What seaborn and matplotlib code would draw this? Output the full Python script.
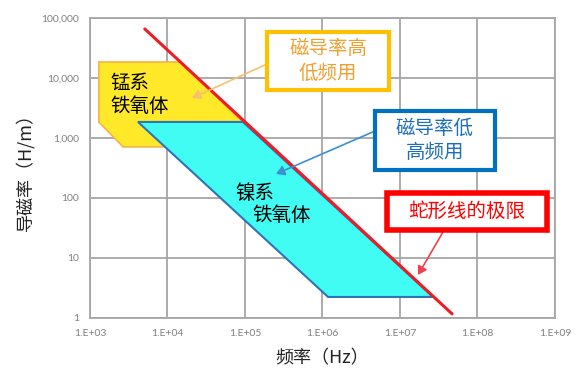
import numpy as np
import pandas as pd
import matplotlib
matplotlib.use("Agg")
import matplotlib.pyplot as plt
import seaborn as sns

# 数据
mn_freq = [1300, 14500, 94000, 9300, 2670, 1300]
mn_perm = [18500, 18500, 1850, 710, 710, 1850]

ni_freq = [4160, 94000, 2.67e7, 1.18e6]
ni_perm = [1850, 1850, 2.24, 2.24]

snoek_freq = [5.1e3, 4.7e7]
snoek_perm = [65600, 1.17]

x_ticks = [1e3, 1e4, 1e5, 1e6, 1e7, 1e8, 1e9]
x_labels = ["1.E+03", "1.E+04", "1.E+05", "1.E+06", "1.E+07", "1.E+08", "1.E+09"]
y_ticks = [1, 10, 100, 1000, 10000, 100000]
y_labels = ["1", "10", "100", "1,000", "10,000", "100,000"]

sns.set_theme(style="white")
plt.rcParams['font.family'] = ['Noto Sans CJK SC', 'DejaVu Sans']

fig = plt.figure(figsize=(5.82, 3.71), dpi=100)
ax = fig.add_axes([0.1546, 0.1429, 0.799, 0.8086])
ax.set_xscale("log")
ax.set_yscale("log")
ax.set_xlim(1e3, 1e9)
ax.set_ylim(1, 1e5)

# 网格
ax.set_xticks(x_ticks)
ax.set_xticklabels(x_labels, fontsize=7.5, color="#808080", family=["Lato", "DejaVu Sans"])
ax.set_yticks(y_ticks)
ax.set_yticklabels(y_labels, fontsize=7.5, color="#808080", family=["Lato", "DejaVu Sans"])
ax.minorticks_off()
ax.tick_params(length=0, pad=8)
ax.grid(True, color="#a6a6a6", linewidth=1.3)
for s in ax.spines.values():
    s.set_color("#a6a6a6")
    s.set_linewidth(1.3)

# 锰系 / 镍系 区域
ax.fill(mn_freq, mn_perm, facecolor="#ffe928", edgecolor="#f7b24a", linewidth=1.2, zorder=3)
ax.fill(ni_freq, ni_perm, facecolor="#40fcf2", edgecolor="#2e75b6", linewidth=1.5, zorder=4)

# 蛇形线极限
df = pd.DataFrame({"f": snoek_freq, "mu": snoek_perm})
sns.lineplot(data=df, x="f", y="mu", color="#ee1c25", linewidth=2.2, ax=ax, zorder=5)

# 区域文字
ax.text(1.84e3, 5260, "锰系\n铁氧体", fontsize=14, color="black", va="center", ha="left",
        linespacing=1.15, zorder=6)
ax.text(7.5e4, 121, "镍系", fontsize=14, color="black", va="center", ha="left", zorder=6)
ax.text(1.25e5, 52, "铁氧体", fontsize=14, color="black", va="center", ha="left", zorder=6)

W, H = 582.0, 371.0

# 标注框
def box(x0, y0, x1, y1, text, color, fc, lw):
    xc, yc = (x0 + x1) / 2 / W, 1 - (y0 + y1) / 2 / H
    rect = plt.Rectangle((x0 / W, 1 - y1 / H), (x1 - x0) / W, (y1 - y0) / H,
                         transform=fig.transFigure, facecolor="white",
                         edgecolor=color, linewidth=lw, zorder=9)
    fig.add_artist(rect)
    fig.text(xc, yc, text, ha="center", va="center", fontsize=14, color=fc,
             linespacing=1.2, zorder=10)

box(267, 32, 389, 90, "磁导率高\n低频用", "#ffc000", "#f0a030", 3)
box(375, 111, 495, 170, "磁导率低\n高频用", "#0070c0", "#1f6fb8", 3)
box(387, 193, 547, 230, "蛇形线的极限", "#ff0000", "#ff0000", 4)

# 箭头
def arrow(p0, p1, color):
    fig.add_artist(matplotlib.patches.FancyArrowPatch(
        (p0[0] / W, 1 - p0[1] / H), (p1[0] / W, 1 - p1[1] / H),
        transform=fig.transFigure, arrowstyle="-|>,head_length=5,head_width=3",
        color=color, linewidth=1.2, zorder=8, shrinkA=0, shrinkB=0))

arrow((267, 64), (192, 98), "#f8bf70")
arrow((375, 131), (276, 174), "#3a90d0")
arrow((443, 232), (418, 275), "#f04050")

# 轴标题
ax.set_xlabel("频率（Hz）", fontsize=13, color="#222222", labelpad=8)
ax.set_ylabel("导磁率（H/m）", fontsize=13, color="#222222", labelpad=5)

fig.savefig("out.png", dpi=100)
